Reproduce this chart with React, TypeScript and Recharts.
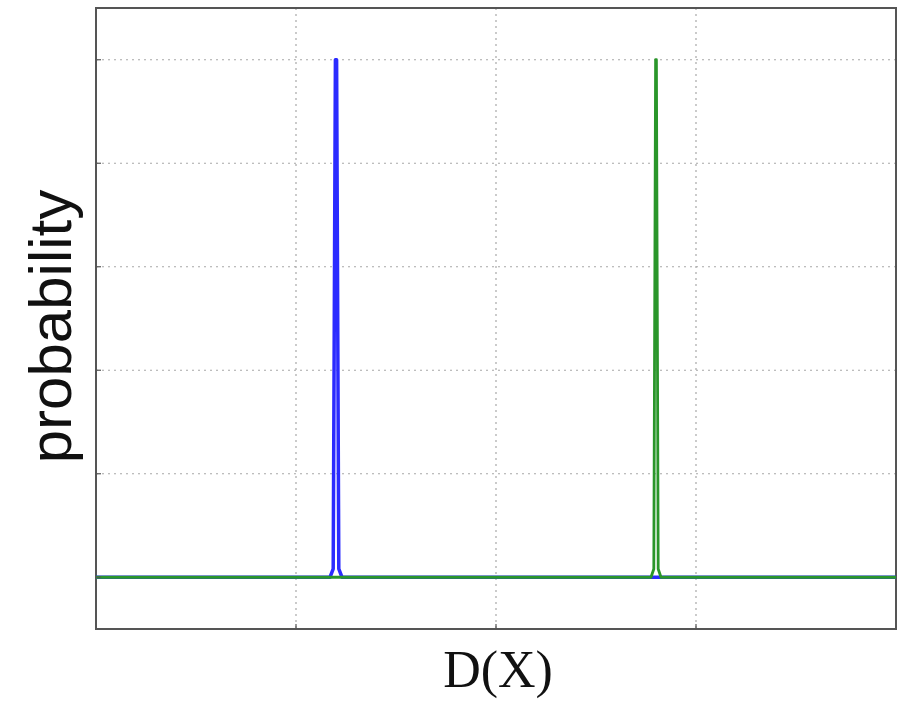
import React from 'react';
import {
  LineChart,
  Line,
  XAxis,
  YAxis,
  CartesianGrid,
  ReferenceArea,
} from 'recharts';

// Axis ticks (drawn as grid lines only, no numeric labels)
const xTicks = [1, 2, 3];
const yTicks = [0, 1, 2, 3, 4, 5];

// Distribution of D(X) for the first population: a narrow spike near 1.2
const blueX = [0, 1.17, 1.186, 1.197, 1.203, 1.214, 1.23, 4];
const blueP = [0, 0, 0.08, 5, 5, 0.08, 0, 0];

// Distribution of D(X) for the second population: a narrow spike near 2.8
const greenX = [0, 2.775, 2.789, 2.798, 2.802, 2.811, 2.825, 4];
const greenP = [0, 0, 0.08, 5, 5, 0.08, 0, 0];

const blueData = blueX.map((x, i) => ({ x, p: blueP[i] }));
const greenData = greenX.map((x, i) => ({ x, p: greenP[i] }));

const W = 916;
const H = 704;

const XLabel = (props: any) => {
  const vb = props.viewBox || {};
  return (
    <text
      x={vb.x + vb.width / 2 + 2}
      y={vb.y + 58}
      textAnchor="middle"
      fontFamily="'Liberation Serif', 'Times New Roman', serif"
      fontSize={52}
      fill="#111"
    >
      D(X)
    </text>
  );
};

const YLabel = (props: any) => {
  const vb = props.viewBox || {};
  const cx = vb.x + 71;
  const cy = vb.y + vb.height / 2 + 8;
  return (
    <text
      x={cx}
      y={cy}
      transform={`rotate(-90, ${cx}, ${cy})`}
      textAnchor="middle"
      fontFamily="'Liberation Sans', Arial, sans-serif"
      fontSize={60}
      fill="#111"
    >
      probability
    </text>
  );
};

const NoTick = () => <g />;

export default function App() {
  return (
    <div style={{ position: 'absolute', left: 0, top: 0, background: '#fff' }}>
      <LineChart
        width={W}
        height={H}
        data={blueData}
        margin={{ top: 8, right: 20, bottom: 0, left: 0 }}
      >
        <CartesianGrid
          stroke="#a8a8a8"
          strokeDasharray="2 4"
          strokeWidth={1.2}
        />
        <XAxis
          type="number"
          dataKey="x"
          domain={[0, 4]}
          ticks={xTicks}
          height={75}
          axisLine={false}
          tick={<NoTick />}
          tickLine={{ stroke: '#555', strokeWidth: 1.2 }}
          tickSize={-5}
          label={<XLabel />}
        />
        <YAxis
          type="number"
          domain={[-0.5, 5.5]}
          ticks={yTicks}
          width={96}
          axisLine={false}
          tick={<NoTick />}
          tickLine={{ stroke: '#555', strokeWidth: 1.2 }}
          tickSize={-5}
          label={<YLabel />}
        />
        <Line
          data={blueData}
          dataKey="p"
          type="linear"
          stroke="#2b2bff"
          strokeWidth={3.5}
          strokeLinejoin="round"
          dot={false}
          isAnimationActive={false}
        />
        <Line
          data={greenData}
          dataKey="p"
          type="linear"
          stroke="#2a962a"
          strokeWidth={2.8}
          strokeLinejoin="round"
          dot={false}
          isAnimationActive={false}
        />
        <ReferenceArea
          x1={0}
          x2={4}
          y1={-0.5}
          y2={5.5}
          fill="none"
          stroke="#555"
          strokeWidth={2}
          ifOverflow="visible"
        />
      </LineChart>
    </div>
  );
}
